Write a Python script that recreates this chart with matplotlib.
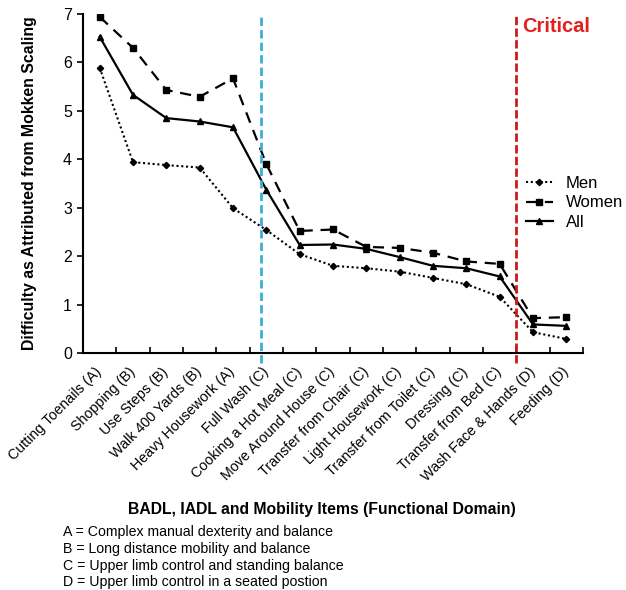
import matplotlib.pyplot as plt
import numpy as np

plt.rcParams['font.family'] = ['Liberation Sans', 'DejaVu Sans']

items = ['Cutting Toenails (A)', 'Shopping (B)', 'Use Steps (B)', 'Walk 400 Yards (B)',
         'Heavy Housework (A)', 'Full Wash (C)', 'Cooking a Hot Meal (C)',
         'Move Around House (C)', 'Transfer from Chair (C)', 'Light Housework (C)',
         'Transfer from Toilet (C)', 'Dressing (C)', 'Transfer from Bed (C)',
         'Wash Face & Hands (D)', 'Feeding (D)']
men = [5.89, 3.94, 3.88, 3.83, 2.99, 2.54, 2.04, 1.80, 1.75, 1.68, 1.55, 1.42, 1.16, 0.43, 0.29]
women = [6.94, 6.30, 5.43, 5.29, 5.67, 3.90, 2.52, 2.55, 2.19, 2.17, 2.07, 1.89, 1.84, 0.72, 0.74]
all_ = [6.53, 5.33, 4.85, 4.78, 4.66, 3.37, 2.23, 2.24, 2.15, 1.98, 1.80, 1.75, 1.58, 0.59, 0.56]
footnotes = ['A = Complex manual dexterity and balance',
             'B = Long distance mobility and balance',
             'C = Upper limb control and standing balance',
             'D = Upper limb control in a seated postion']

x = np.arange(len(items))

fig = plt.figure(figsize=(6.26, 5.90), dpi=100)
ax = fig.add_axes([0.1326, 0.4017, 0.7987, 0.5746])

ax.plot(x, men, color='black', linestyle=(0, (1, 1.3)), linewidth=1.5,
        marker='D', markersize=3.2, label='Men')
ax.plot(x, women, color='black', linestyle=(0, (5, 3.5)), linewidth=1.6,
        marker='s', markersize=4.6, label='Women')
ax.plot(x, all_, color='black', linestyle='-', linewidth=1.6,
        marker='^', markersize=4.6, label='All')

# threshold lines
ax.plot([4.83, 4.83], [-0.2, 7.0], color='#3aaed8', linestyle=(0, (3, 1.5)),
        linewidth=2, clip_on=False)
ax.plot([12.5, 12.5], [-0.2, 7.0], color='#cc1a1a', linestyle=(0, (3, 1.2)),
        linewidth=2, clip_on=False)
ax.text(12.68, 6.75, 'Critical', color='#e3201b', fontsize=14.5,
        fontweight='bold', va='center', ha='left')

ax.set_xlim(-0.5, 14.5)
ax.set_ylim(0, 7)
ax.set_yticks(range(8))
ax.tick_params(axis='y', direction='out', length=4, width=1.2, labelsize=11.5, pad=4)

ax.set_xticks(np.arange(-0.5, 15, 1), minor=True)
ax.tick_params(axis='x', which='minor', direction='in', length=4, width=1.2)
ax.set_xticks(x)
ax.set_xticklabels(items, rotation=45, ha='right', va='center',
                   rotation_mode='anchor', fontsize=10.3)
ax.tick_params(axis='x', which='major', length=0, pad=12)

for s in ['top', 'right']:
    ax.spines[s].set_visible(False)
for s in ['left', 'bottom']:
    ax.spines[s].set_linewidth(1.5)

ax.set_ylabel('Difficulty as Attributed from Mokken Scaling', fontsize=11.4,
              fontweight='bold')
ax.yaxis.set_label_coords(-0.092, 0.5)

ax.legend(loc='center left', bbox_to_anchor=(0.886, 0.4425), frameon=False,
          fontsize=12, handlelength=1.6, handletextpad=0.8, labelspacing=0.25,
          borderpad=0, borderaxespad=0)

fig.text(0.514, 0.137, 'BADL, IADL and Mobility Items (Functional Domain)',
         fontsize=11.3, fontweight='bold', ha='center', va='center')
for i, note in enumerate(footnotes):
    fig.text(0.1006, 0.0983 - i * 0.0285, note, fontsize=10.2, ha='left', va='center')

fig.savefig('out.png', dpi=100)
